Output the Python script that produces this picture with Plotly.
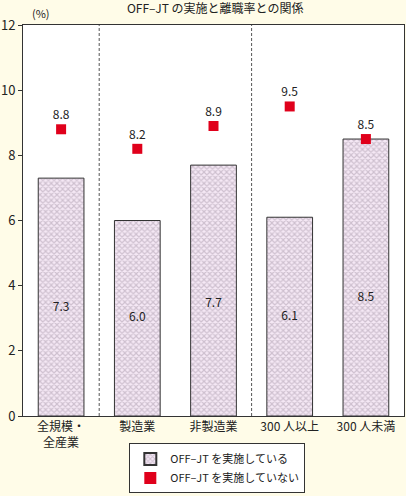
import plotly.graph_objects as go

categories = ["全規模・<br>全産業", "製造業", "非製造業", "300 人以上", "300 人未満"]
with_offjt = [7.3, 6.0, 7.7, 6.1, 8.5]
without_offjt = [8.8, 8.2, 8.9, 9.5, 8.5]
y_ticks = [0, 2, 4, 6, 8, 10, 12]

cream = "#FFFCE8"
font = "Noto Sans CJK JP"

fig = go.Figure()

fig.add_trace(go.Bar(
    x=list(range(len(categories))),
    y=with_offjt,
    width=0.6,
    name="OFF–JT を実施している",
    marker=dict(
        color="#F4E6F4",
        line=dict(color="#333333", width=1),
        pattern=dict(shape="x", fgcolor="#A898AA", bgcolor="#F5E8F5", size=4, solidity=0.5),
    ),
    hoverinfo="skip",
))

# values written inside the bars (placed a little below the middle, as in the original)
label_y = [1.5 + 0.25 * v for v in with_offjt]
fig.add_trace(go.Scatter(
    x=list(range(len(categories))),
    y=label_y,
    mode="text",
    text=[f"{v:.1f}" for v in with_offjt],
    textfont=dict(size=12, color="#222222", family=font),
    showlegend=False,
    hoverinfo="skip",
))

fig.add_trace(go.Scatter(
    x=list(range(len(categories))),
    y=without_offjt,
    mode="markers+text",
    name="OFF–JT を実施していない",
    marker=dict(symbol="square", size=10, color="#E0001B"),
    text=[f"{v:.1f}" for v in without_offjt],
    textposition="top center",
    textfont=dict(size=12, color="#222222", family=font),
    hoverinfo="skip",
))

for xpos in [0.5, 2.5]:
    fig.add_shape(type="line", x0=xpos, x1=xpos, y0=0, y1=12, xref="x", yref="y",
                  line=dict(color="#555555", width=1, dash="3px,2px"))

fig.update_layout(
    width=406, height=496,
    margin=dict(l=21, r=1, t=25, b=80),
    paper_bgcolor=cream,
    plot_bgcolor="white",
    font=dict(family=font, size=12, color="#222222"),
    title=dict(text="OFF–JT の実施と離職率との関係", x=0.53, xanchor="center",
               y=0.982, yanchor="middle", font=dict(size=12, family=font)),
    showlegend=True,
    legend=dict(
        x=0.51, xanchor="center", y=-0.198, yanchor="bottom",
        bgcolor="white", bordercolor="#333333", borderwidth=1,
        font=dict(size=11, family=font), tracegroupgap=0,
        itemsizing="constant",
    ),
    bargap=0.4,
)

fig.update_xaxes(
    tickmode="array", tickvals=list(range(len(categories))), ticktext=categories,
    range=[-0.5, 4.5], showline=True, linecolor="#333333", mirror=True,
    ticks="", showgrid=False, tickfont=dict(size=12),
)
fig.update_yaxes(
    range=[0, 12], tickvals=y_ticks, showline=True, linecolor="#333333", mirror=True,
    ticks="outside", ticklen=4, tickcolor="#333333", showgrid=False, zeroline=False,
    tickfont=dict(size=13),
)

fig.add_annotation(text="(%)", x=0, xref="paper", xanchor="left", xshift=7,
                   y=1, yref="paper", yanchor="bottom", yshift=2, showarrow=False,
                   font=dict(size=11, family=font))

fig.write_html("out.html", config={"displayModeBar": False},
               post_script="document.body.style.margin='0';")
